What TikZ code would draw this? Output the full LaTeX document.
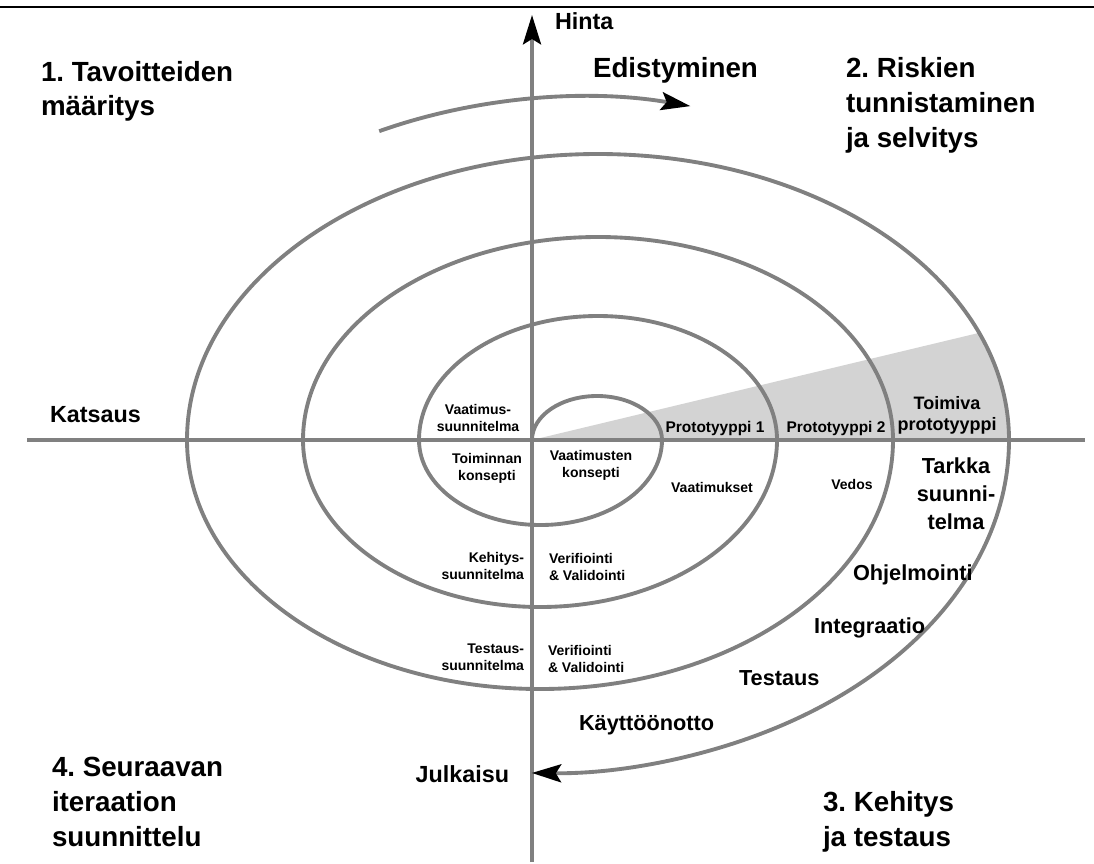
\documentclass[tikz,border=0pt]{standalone}
\usepackage{fontspec}
\setmainfont{Liberation Sans}
\usetikzlibrary{arrows.meta,calc}
\definecolor{spiralgray}{RGB}{128,128,128}
\definecolor{wedgegray}{RGB}{211,211,211}
\frenchspacing
\tikzset{
  gline/.style={draw=spiralgray, line width=2.9pt},
  blacktip/.style={-{Stealth[length=22pt,width=13.5pt,inset=4pt,color=black]}},
  lbl/.style={inner sep=0pt, outer sep=0pt},
  titletxt/.style={lbl, align=left, font=\bfseries\fontsize{20.8}{25.9}\selectfont},
  bigtxt/.style={lbl, font=\bfseries\fontsize{17.5}{21}\selectfont},
  midtxt/.style={lbl, font=\bfseries\fontsize{16.3}{21}\selectfont},
  prottxt/.style={lbl, align=center, font=\bfseries\fontsize{13.5}{15.75}\selectfont},
  protsmall/.style={lbl, font=\bfseries\fontsize{11.6}{14}\selectfont},
  smalltxt/.style={lbl, font=\bfseries\fontsize{10.5}{12.4}\selectfont},
}
\begin{document}
\begin{tikzpicture}[x=0.75pt,y=-0.75pt,line join=round]
\useasboundingbox (0,0) rectangle (1094,863);
% named points
\coordinate (O) at (532,440);
\coordinate (axB) at (532,862);
\coordinate (axT) at (532,15);
\coordinate (axL) at (27,440);
\coordinate (axR) at (1085,440);
\coordinate (topL) at (0,7);
\coordinate (topR) at (1094,7);
\coordinate (wedgeC) at ($(598,440)+(338:411 and 286)$);
\coordinate (progS) at ($(583,427)+(243.7:460 and 330)$);
% frame line at the top
\draw[black, line width=1.8pt] (topL) -- (topR);
% shaded wedge
\fill[wedgegray] (O) -- (wedgeC) arc[start angle=338,end angle=360,x radius=411,y radius=286] -- cycle;
% axes
\draw[gline] (axL) -- (axR);
\draw[gline, blacktip] (axB) -- (axT);
% spiral
\draw[gline, blacktip] (O)
  arc[start angle=180,end angle=360,x radius=65,y radius=44]
  arc[start angle=0,end angle=180,x radius=121.5,y radius=85]
  arc[start angle=180,end angle=360,x radius=179,y radius=124]
  arc[start angle=0,end angle=180,x radius=237,y radius=167]
  arc[start angle=180,end angle=360,x radius=295,y radius=203]
  arc[start angle=0,end angle=180,x radius=353,y radius=249]
  arc[start angle=180,end angle=360,x radius=411,y radius=286]
  arc[start angle=0,end angle=91,x radius=469,y radius=333];
% progress arrow
\draw[gline, blacktip] (progS) arc[start angle=243.7,end angle=283.5,x radius=460,y radius=330];
% quadrant titles (base anchor = last line)
\node[titletxt, anchor=base west] (q1) at (41,116) {1. Tavoitteiden\\määritys};
\node[titletxt, anchor=base west] (edi) at (593,78) {Edistyminen};
\node[titletxt, anchor=base west] (q2) at (846,147) {2. Riskien\\tunnistaminen\\ja selvitys};
\node[titletxt, anchor=base west] (q4) at (52,846) {4. Seuraavan\\iteraation\\suunnittelu};
\node[titletxt, anchor=base west] (q3) at (823,846) {3. Kehitys\\ja testaus};
% axis labels
\node[bigtxt, anchor=base west] (hinta) at (555,30) {Hinta};
\node[bigtxt, anchor=base west] (katsaus) at (50,422) {Katsaus};
\node[bigtxt, anchor=base east] (julkaisu) at (509,782) {Julkaisu};
% development steps
\node[midtxt, anchor=base west] (kaytto) at (579,730) {Käyttöönotto};
\node[midtxt, anchor=base west] (testaus) at (739,685) {Testaus};
\node[midtxt, anchor=base west] (integ) at (814,633) {Integraatio};
\node[midtxt, anchor=base west] (ohjel) at (853,580) {Ohjelmointi};
\node[midtxt, align=center, anchor=base] (tarkka) at (956,529) {Tarkka\\suunni-\\telma};
% prototypes
\node[prottxt, anchor=base] (toimiva) at (947,430) {Toimiva\\prototyyppi};
\node[protsmall, anchor=base] (prot1) at (715,432) {Prototyyppi 1};
\node[protsmall, anchor=base] (prot2) at (836,432) {Prototyyppi 2};
% small labels
\node[smalltxt, align=center, anchor=base] (vsuun) at (478,431) {Vaatimus-\\suunnitelma};
\node[smalltxt, align=center, anchor=base] (tkons) at (487,480) {Toiminnan\\konsepti};
\node[smalltxt, align=center, anchor=base] (vkons) at (591,477) {Vaatimusten\\konsepti};
\node[smalltxt, anchor=base] (vaatim) at (712,492) {Vaatimukset};
\node[smalltxt, anchor=base] (vedos) at (852,489) {Vedos};
\node[smalltxt, align=right, anchor=base east] (ksuun) at (524,579) {Kehitys-\\suunnitelma};
\node[smalltxt, align=left, anchor=base west] (vv1) at (549,580) {Verifiointi\\\& Validointi};
\node[smalltxt, align=right, anchor=base east] (tsuun) at (524,670) {Testaus-\\suunnitelma};
\node[smalltxt, align=left, anchor=base west] (vv2) at (548,672) {Verifiointi\\\& Validointi};
\end{tikzpicture}
\end{document}
